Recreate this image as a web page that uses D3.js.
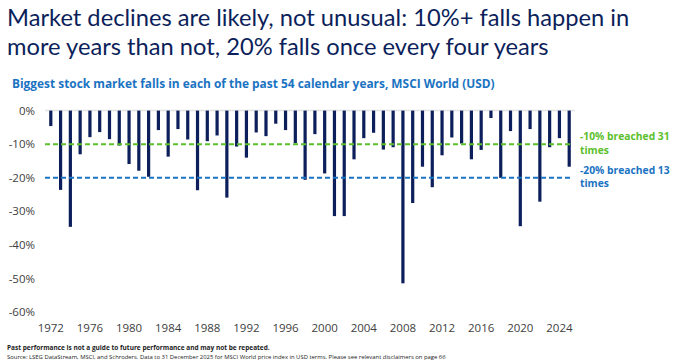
<!DOCTYPE html>
<html>
<head>
<meta charset="utf-8">
<script src="https://cdn.jsdelivr.net/npm/d3@7"></script>
<style>
  body { margin: 0; background: #fff; }
  svg { display: block; }
</style>
</head>
<body>
<svg id="chart" width="681" height="362"></svg>
<script>
// biggest intra-year fall, per calendar year (%)
var years = d3.range(1972, 2026);
var falls = [
  -4.6, -23.6, -34.6, -13.0, -7.9, -6.4, -8.5, -10.4, -15.9, -17.9,
  -19.7, -5.8, -13.7, -5.5, -8.6, -23.7, -9.1, -7.4, -25.9, -10.7,
  -14.0, -6.5, -7.6, -3.9, -5.8, -9.7, -20.6, -7.0, -18.7, -31.4,
  -31.4, -14.5, -8.2, -6.6, -11.6, -10.9, -51.4, -27.5, -16.7, -22.8,
  -13.3, -8.0, -9.8, -14.5, -11.7, -2.2, -20.0, -6.1, -34.4, -5.5,
  -27.1, -10.9, -8.2, -16.7
];
var yTicks = [0, -10, -20, -30, -40, -50, -60];
var xTicks = [1972, 1976, 1980, 1984, 1988, 1992, 1996, 2000, 2004, 2008, 2012, 2016, 2020, 2024];
var thresholds = [
  {v: -10, color: "#5cc02c", label: ["-10% breached 31", "times"]},
  {v: -20, color: "#1a73c2", label: ["-20% breached 13", "times"]}
];

var svg = d3.select("#chart");
var navy = "#0c1f5b";

var x = d3.scaleLinear().domain([1972, 2025]).range([50.8, 569.2]);
var y = d3.scaleLinear().domain([0, -60]).range([110.6, 312.2]);

// title
var title = svg.append("g").attr("fill", navy)
  .style("font-family", "Lato, 'Open Sans', sans-serif").style("font-size", "23.7px");
title.append("text").attr("x", 7).attr("y", 26).text("Market declines are likely, not unusual: 10%+ falls happen in");
title.append("text").attr("x", 7).attr("y", 55).text("more years than not, 20% falls once every four years");

svg.append("text").attr("x", 12).attr("y", 88)
  .attr("fill", "#1a73c2")
  .style("font-family", "'Open Sans', sans-serif").style("font-weight", "bold").style("font-size", "11.9px")
  .text("Biggest stock market falls in each of the past 54 calendar years, MSCI World (USD)");

// y axis labels
svg.append("g").selectAll("text").data(yTicks).enter().append("text")
  .attr("x", 35).attr("y", function(d){ return y(d); }).attr("dy", "0.35em")
  .attr("text-anchor", "end").attr("fill", "#404040")
  .style("font-family", "'Open Sans', sans-serif").style("font-size", "11.5px")
  .text(function(d){ return d + "%"; });

// zero line
svg.append("line").attr("x1", 45).attr("x2", 575).attr("y1", y(0)).attr("y2", y(0))
  .attr("stroke", "#e3e3e3").attr("stroke-width", 1.5);

// bars
svg.append("g").selectAll("rect").data(falls).enter().append("rect")
  .attr("x", function(d, i){ return x(years[i]) - 1.6; })
  .attr("y", y(0))
  .attr("width", 3.2)
  .attr("height", function(d){ return y(d) - y(0); })
  .attr("fill", navy);

// threshold lines + labels
var th = svg.append("g").selectAll("g").data(thresholds).enter().append("g");
th.append("line").attr("x1", 45).attr("x2", 572)
  .attr("y1", function(d){ return y(d.v); }).attr("y2", function(d){ return y(d.v); })
  .attr("stroke", function(d){ return d.color; }).attr("stroke-width", 2)
  .attr("stroke-dasharray", "5,3");
th.each(function(d){
  var t = d3.select(this).append("text").attr("fill", d.color)
    .style("font-family", "'Open Sans', sans-serif").style("font-weight", "bold").style("font-size", "10.3px");
  d.label.forEach(function(s, k){
    t.append("tspan").attr("x", 580).attr("y", y(d.v) - 4 + k * 13.5).text(s);
  });
});

// x axis labels
svg.append("g").selectAll("text").data(xTicks).enter().append("text")
  .attr("x", function(d){ return x(d); }).attr("y", 332)
  .attr("text-anchor", "middle").attr("fill", "#404040")
  .style("font-family", "'Open Sans', sans-serif").style("font-size", "11.5px")
  .text(function(d){ return d; });

// footnotes
svg.append("text").attr("x", 7).attr("y", 350).attr("fill", "#222")
  .style("font-family", "'Open Sans', sans-serif").style("font-weight", "bold").style("font-size", "6.5px")
  .text("Past performance is not a guide to future performance and may not be repeated.");
svg.append("text").attr("x", 7).attr("y", 359).attr("fill", "#222")
  .style("font-family", "'Open Sans', sans-serif").style("font-size", "5.9px")
  .text("Source: LSEG DataStream, MSCI, and Schroders. Data to 31 December 2025 for MSCI World price index in USD terms. Please see relevant disclaimers on page 66");
</script>
</body>
</html>
